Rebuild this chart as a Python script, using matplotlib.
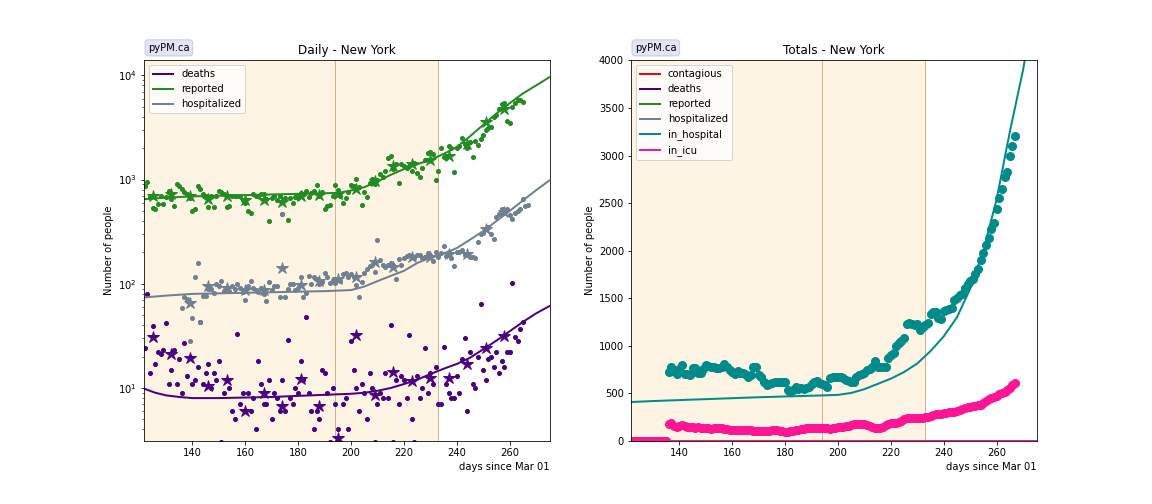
import numpy as np
import matplotlib.pyplot as plt

# days since Mar 01
days = np.arange(122, 266)        # daily deaths / reported
hosp_days = np.arange(136, 268)   # daily hospitalized
tot_days = np.arange(122, 268)    # totals in hospital / icu
week_days = np.arange(125, 259, 7)
model_days = [122, 126, 130, 135, 140, 150, 160, 170, 180, 190, 195, 200, 205, 210, 215,
              220, 225, 230, 235, 240, 245, 250, 255, 260, 265, 270, 275]

reported = [875, 942, 680, 535, 522, 584, 700, 584, 680, 783,
            650, 562, 908, 870, 820, 760, 730, 660, 503, 522,
            860, 820, 730, 700, 540, 700, 540, 700, 780, 760,
            720, 540, 560, 700, 690, 700, 690, 640, 600, 503,
            480, 730, 700, 690, 730, 720, 650, 404, 660, 690,
            640, 700, 467, 660, 410, 660, 590, 680, 660, 740,
            720, 780, 680, 740, 780, 880, 690, 760, 520, 560,
            570, 700, 880, 800, 700, 590, 660, 760, 880, 875,
            1015, 850, 570, 760, 680, 930, 1015, 900, 1000, 1130,
            1050, 1200, 1618, 1700, 1250, 1400, 920, 1420, 1365, 1300,
            1350, 1200, 1450, 1150, 1050, 1280, 1550, 1790, 1820, 1765,
            1000, 1220, 2014, 1640, 1620, 2080, 2000, 1175, 2014, 2100,
            2520, 2200, 2014, 2300, 1640, 2350, 2140, 2450, 2700, 3000,
            3140, 3200, 3980, 4200, 4780, 5330, 5420, 3640, 3480, 5000,
            5420, 5750, 5830, 5500]

deaths = [24, 80, 14, 39, 17, 22, 21, 23, 42, 11,
          15, 23, 11, 19, 9, 27, 13, 20, 11, 12,
          16, 43, 11, 14, 17, 10, 14, 12, 18, 3,
          9, 12, 10, 6, 5, 33, 7, 9, 6, 9,
          6, 8, 4, 18, 11, 7, 7, 12, 5, 9,
          8, 6, 12, 6, 29, 8, 7, 10, 9, 18,
          12, 48, 9, 6, 4, 6, 5, 15, 14, 9,
          3, 10, 7, 4, 3, 7, 8, 4, 28, 15,
          10, 6, 11, 9, 5, 14, 10, 3, 7, 9,
          8, 14, 8, 40, 3, 12, 7, 13, 12, 8,
          32, 5, 3, 13, 8, 10, 24, 9, 14, 11,
          16, 7, 7, 25, 11, 9, 8, 8, 13, 9,
          19, 30, 6, 22, 11, 10, 20, 64, 15, 12,
          19, 20, 16, 22, 14, 18, 16, 22, 22, 101,
          31, 28, 37, 43]

hospitalized = [58, 74, 72, 28, 47, 117, 158, 43, 77, 76,
                89, 89, 82, 99, 96, 107, 85, 88, 86, 96,
                89, 99, 92, 84, 70, 96, 107, 92, 88, 84,
                92, 80, 68, 104, 88, 96, 96, 75, 470, 75,
                89, 99, 100, 88, 92, 115, 74, 81, 120, 99,
                115, 110, 99, 105, 128, 115, 101, 108, 102, 110,
                107, 125, 128, 115, 125, 116, 98, 74, 104, 128,
                140, 148, 150, 130, 263, 168, 150, 145, 150, 160,
                150, 112, 172, 150, 176, 183, 190, 185, 178, 190,
                188, 178, 182, 196, 190, 165, 200, 182, 196, 232,
                186, 200, 175, 149, 200, 200, 210, 190, 190, 180,
                182, 175, 250, 300, 310, 335, 350, 300, 269, 435,
                470, 522, 495, 520, 455, 419, 480, 503, 520, 652,
                560, 574]

# weekly values (stars)
reported_week = [702, 728, 700, 652, 690, 637, 630, 610, 700, 710,
                 730, 820, 977, 1365, 1420, 1525, 1700, 2200, 3560, 4780]
deaths_week = [31, 21, 19.3, 10.5, 11.9, 6.0, 9.0, 6.7, 12.1, 6.7,
               3.3, 32.4, 8.6, 14.2, 11.6, 12.6, 12.4, 17.1, 24, 31.6]
hospitalized_week = [np.nan, np.nan, 66, 96, 91, 88, 88, 141, 98, 107,
                     111, 115, 161, 144, 182, 180, 193, 193, 335, 485]

in_hospital = [0] * 14 + [
    729, 775, 740, 704, 760, 799, 704, 700, 690, 764,
    764, 711, 711, 760, 799, 789, 775, 782, 770, 764,
    782, 810, 782, 750, 729, 704, 740, 720, 711, 704,
    676, 690, 782, 782, 694, 676, 620, 588, 599, 610,
    620, 623, 623, 623, 623, 535, 518, 535, 571, 543,
    553, 543, 560, 571, 599, 623, 634, 606, 595, 588,
    571, 659, 670, 676, 676, 670, 659, 641, 630, 623,
    623, 676, 690, 704, 718, 747, 760, 782, 845, 782,
    775, 782, 782, 870, 905, 923, 1000, 1028, 1046, 1081,
    1232, 1239, 1230, 1222, 1232, 1169, 1200, 1222, 1239, 1330,
    1352, 1352, 1292, 1282, 1363, 1380, 1387, 1398, 1486, 1503,
    1530, 1549, 1609, 1650, 1680, 1704, 1760, 1803, 1901, 1979,
    2056, 2137, 2225, 2295, 2436, 2559, 2654, 2770, 2823, 3000,
    3098, 3203]

in_icu = [0] * 14 + [
    183, 190, 160, 148, 160, 166, 155, 150, 148, 150,
    140, 145, 141, 140, 135, 132, 130, 135, 138, 141,
    141, 130, 125, 120, 120, 118, 120, 120, 115, 113,
    115, 113, 110, 108, 110, 106, 106, 110, 108, 115,
    118, 120, 110, 100, 95, 95, 100, 108, 113, 120,
    125, 130, 132, 135, 138, 140, 141, 138, 135, 141,
    135, 130, 135, 140, 145, 148, 150, 155, 160, 165,
    175, 183, 180, 183, 175, 165, 160, 150, 140, 135,
    135, 150, 165, 180, 190, 185, 190, 200, 215, 230,
    247, 240, 242, 245, 247, 247, 247, 250, 254, 265,
    275, 280, 285, 289, 290, 295, 300, 305, 310, 314,
    330, 340, 350, 359, 362, 366, 370, 375, 377, 400,
    420, 440, 447, 460, 475, 490, 500, 510, 540, 560,
    590, 613]

# model curves
reported_model = [650, 660, 670, 680, 690, 700, 710, 720, 730, 740, 745, 785, 845, 960,
                  1110, 1260, 1400, 1550, 1760, 2050, 2600, 3350, 4300, 5400, 6700, 8000, 9600]
hospitalized_model = [74, 75.5, 77, 78.5, 80, 81, 82, 83, 84, 85, 86, 87, 94, 106,
                      119, 133, 158, 178, 195, 220, 265, 320, 400, 500, 630, 790, 980]
deaths_model = [9.8, 9.0, 8.5, 8.2, 8.0, 8.0, 8.1, 8.2, 8.4, 8.6, 8.7, 8.8, 9.0, 9.4,
                10.0, 10.9, 12.0, 13.6, 15.3, 17.0, 19.5, 23.5, 28.5, 35, 43, 52, 61]
in_hospital_model = [410, 415, 420, 425, 430, 440, 450, 460, 468, 476, 480, 485, 505, 545,
                     600, 655, 725, 815, 945, 1100, 1300, 1600, 2000, 2540, 3250, 3900, 4700]
in_icu_model = [0] * len(model_days)

# fit periods
period_edges = [121.7, 194, 233]

colors = {'contagious': 'red', 'deaths': 'indigo', 'reported': 'forestgreen',
          'hospitalized': 'slategrey', 'in_hospital': 'darkcyan', 'in_icu': 'deeppink'}

fig, axes = plt.subplots(1, 2, figsize=(16, 7), dpi=72)
plt.subplots_adjust(bottom=0.125)

# Daily
ax = axes[0]
for name, model, daily_x, daily, weekly in [
        ('deaths', deaths_model, days, deaths, deaths_week),
        ('reported', reported_model, days, reported, reported_week),
        ('hospitalized', hospitalized_model, hosp_days, hospitalized, hospitalized_week)]:
    c = colors[name]
    ax.plot(model_days, model, color=c, lw=2, label=name)
    ax.plot(daily_x, daily, 'o', ms=4, color=c)
    ax.plot(week_days, weekly, '*', ms=12, color=c)
ax.set_yscale('log')
ax.set_ylim(3.1, 13900)
ax.set_title('Daily - New York')

# Totals
ax = axes[1]
for name in ['contagious', 'deaths', 'reported', 'hospitalized']:
    ax.plot([], [], color=colors[name], lw=2, label=name)
ax.plot(model_days, in_hospital_model, color=colors['in_hospital'], lw=2, label='in_hospital')
ax.plot(model_days, in_icu_model, color=colors['in_icu'], lw=2, label='in_icu')
ax.plot(tot_days, in_hospital, 'o', ms=8, color=colors['in_hospital'])
ax.plot(tot_days, in_icu, 'o', ms=8, color=colors['in_icu'])
ax.set_ylim(0, 4000)
ax.set_title('Totals - New York')

for ax in axes:
    ax.set_xlim(121.7, 275.2)
    ax.axvspan(period_edges[0], period_edges[2], facecolor='#fdf4e3', zorder=0)
    ax.axvline(period_edges[1], color='tan', lw=1, zorder=0.5)
    ax.axvline(period_edges[2], color='tan', lw=1, zorder=0.5)
    ax.set_ylabel('Number of people')
    ax.set_xlabel('days since Mar 01', loc='right')
    ax.legend(loc='upper left')
    ax.text(0.01, 1.02, 'pyPM.ca', transform=ax.transAxes, va='bottom', fontsize=10,
            bbox=dict(boxstyle='round,pad=0.3', facecolor='#e4e4f8', edgecolor='#c8c8ec'))

plt.savefig('out.png', dpi=72)
